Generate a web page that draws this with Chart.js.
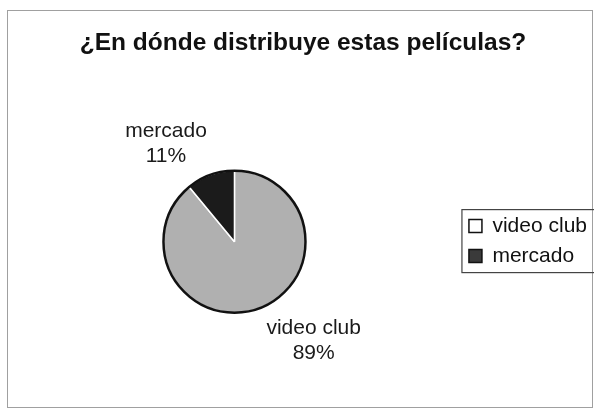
<!DOCTYPE html>
<html>
<head>
<meta charset="utf-8">
<script src="https://cdn.jsdelivr.net/npm/chart.js@4.4.1/dist/chart.umd.min.js"></script>
<style>
  html, body { margin: 0; padding: 0; background: #fff; }
  #wrap { width: 594px; height: 410px; }
</style>
</head>
<body>
<div id="wrap"><canvas id="pieChart" width="594" height="410"></canvas></div>
<script>
const categories = ['video club', 'mercado'];
const percents = [89, 11];
const sliceColors = ['#b0b0b0', '#1b1b1b'];
const legendFills = ['#ffffff', '#3a3a3a'];

// label placement around the pie: angle shift (deg) from slice middle, distance in radii
const labelShift = [-19, -15];
const labelDist = [1.78, 1.69];

const FONT = '"Liberation Sans", Arial, sans-serif';

// frame around the whole chart, outer ring of the pie, box around the legend
const framePlugin = {
    id: 'frame',
    beforeDraw(chart) {
        const c = chart.ctx;
        c.save();
        c.strokeStyle = '#a0a0a0';
        c.lineWidth = 1;
        c.strokeRect(7.5, 10.5, 585, 397);
        c.restore();
    },
    afterDraw(chart) {
        const c = chart.ctx;
        const arc = chart.getDatasetMeta(0).data[0];
        c.save();
        c.beginPath();
        c.arc(arc.x, arc.y, arc.outerRadius, 0, Math.PI * 2);
        c.strokeStyle = '#111';
        c.lineWidth = 2.5;
        c.stroke();

        const boxes = chart.legend.legendHitBoxes;
        const l = Math.min(...boxes.map(b => b.left)) - 7;
        const t = Math.min(...boxes.map(b => b.top)) - 6;
        const b = Math.max(...boxes.map(b => b.top + b.height)) + 6;
        c.strokeStyle = '#444';
        c.lineWidth = 1.2;
        c.strokeRect(l, t, 600 - l, b - t);
        c.restore();
    }
};

// category name and percent outside each slice
const outsideLabels = {
    id: 'outsideLabels',
    afterDatasetsDraw(chart) {
        const c = chart.ctx;
        const meta = chart.getDatasetMeta(0);
        c.save();
        c.font = '21px ' + FONT;
        c.fillStyle = '#1a1a1a';
        c.textAlign = 'center';
        c.textBaseline = 'middle';
        meta.data.forEach((arc, i) => {
            const mid = (arc.startAngle + arc.endAngle) / 2 + labelShift[i] * Math.PI / 180;
            const r = arc.outerRadius * labelDist[i];
            const x = arc.x + Math.cos(mid) * r;
            const y = arc.y + Math.sin(mid) * r;
            c.fillText(categories[i], x, y - 12);
            c.fillText(percents[i] + '%', x, y + 13);
        });
        c.restore();
    }
};

new Chart(document.getElementById('pieChart').getContext('2d'), {
    type: 'pie',
    data: {
        labels: categories,
        datasets: [{
            data: percents,
            backgroundColor: sliceColors,
            borderColor: '#ffffff',
            borderWidth: 1.5
        }]
    },
    options: {
        responsive: false,
        animation: false,
        radius: 71,
        layout: { padding: { top: 20, bottom: 20, left: 9, right: -3 } },
        plugins: {
            title: {
                display: true,
                text: '¿En dónde distribuye estas películas?',
                color: '#111',
                font: { family: FONT, size: 24.5, weight: 'bold' },
                padding: { top: 9, bottom: 35 }
            },
            legend: {
                position: 'right',
                // empty title only pushes the entries down level with the pie
                title: { display: true, text: '', font: { size: 1 }, padding: { top: 71, bottom: 0 } },
                labels: {
                    color: '#111',
                    font: { family: FONT, size: 21 },
                    boxWidth: 13,
                    boxHeight: 13,
                    padding: 9,
                    generateLabels(chart) {
                        return categories.map((name, i) => ({
                            text: name,
                            fillStyle: legendFills[i],
                            strokeStyle: '#111',
                            fontColor: '#111',
                            lineWidth: 1.5,
                            index: i
                        }));
                    }
                }
            },
            tooltip: { enabled: false }
        }
    },
    plugins: [framePlugin, outsideLabels]
});
</script>
</body>
</html>
